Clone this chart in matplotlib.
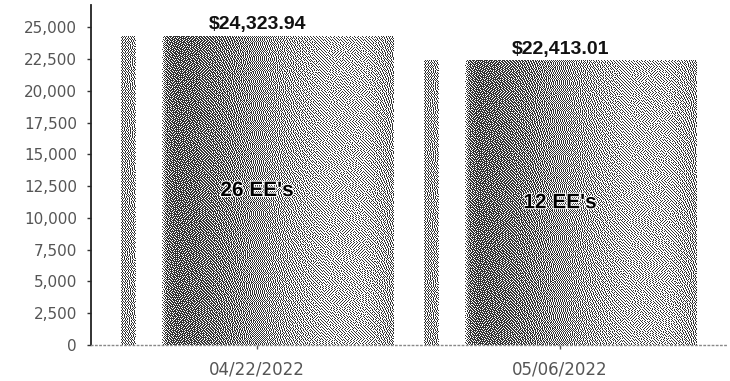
import matplotlib.pyplot as plt
import matplotlib.patheffects as pe
import numpy as np

# === DATA ===
DATUMS = ["04/22/2022", "05/06/2022"]
BEDRAGEN = [24323.94, 22413.01]
AANTAL_EE = [26, 12]
Y_TICKS = [0, 2500, 5000, 7500, 10000, 12500, 15000, 17500, 20000, 22500, 25000]

# cilinder-schaduw over de balkbreedte (positie 0..1, grijswaarde)
SCHADUW_POS = [0.0, 0.05, 0.056, 0.145, 0.165, 0.2, 0.3, 0.5, 0.75, 0.9, 1.0]
SCHADUW_GRIJS = [0.64, 0.64, 1.0, 1.0, 0.5, 0.42, 0.46, 0.6, 0.74, 0.74, 0.64]
BALK_BREEDTE = 0.9
ZWART, WIT = 0.2, 1.0


def dither_balk(w_px, h_px):
    """Floyd-Steinberg foutdiffusie van het schaduwprofiel naar zwart/wit."""
    profiel = np.interp(np.linspace(0, 1, w_px), SCHADUW_POS, SCHADUW_GRIJS)
    g = [list(profiel) for _ in range(h_px)]
    out = np.zeros((h_px, w_px))
    for y in range(h_px):
        rij = g[y]
        volgende = g[y + 1] if y + 1 < h_px else None
        for x in range(w_px):
            oud = rij[x]
            nieuw = WIT if oud > (ZWART + WIT) / 2 else ZWART
            out[y, x] = nieuw
            fout = oud - nieuw
            if x + 1 < w_px:
                rij[x + 1] += fout * 7 / 16
            if volgende is not None:
                if x > 0:
                    volgende[x - 1] += fout * 3 / 16
                volgende[x] += fout * 5 / 16
                if x + 1 < w_px:
                    volgende[x + 1] += fout * 1 / 16
    return out


def main():
    fig = plt.figure(figsize=(7.3, 3.81), dpi=100)
    ax = fig.add_axes([91 / 730, 36 / 381, 637 / 730, 340 / 381])
    ax.set_xlim(-0.548, 1.554)
    ax.set_ylim(0, 26770)

    x = np.arange(len(DATUMS))
    bars = ax.bar(x, BEDRAGEN, width=BALK_BREEDTE, color="none", edgecolor="none")

    for b in bars:
        x0, h = b.get_x(), b.get_height()
        x1 = x0 + b.get_width()
        (px0, py0), (px1, py1) = ax.transData.transform([(x0, 0), (x1, h)])
        w_px, h_px = int(round(px1 - px0)), int(round(py1 - py0))
        im = ax.imshow(
            dither_balk(w_px, h_px),
            cmap="gray",
            vmin=0,
            vmax=1,
            aspect="auto",
            interpolation="nearest",
            extent=(x0, x1, 0, h),
            zorder=2,
        )
        im.set_clip_path(b)

    halo = [pe.withStroke(linewidth=1.5, foreground="white")]
    for i, (v, n) in enumerate(zip(BEDRAGEN, AANTAL_EE)):
        ax.annotate(
            f"${v:,.2f}",
            (i, v),
            xytext=(0, 2),
            textcoords="offset points",
            ha="center",
            va="bottom",
            fontsize=14,
            fontweight="bold",
            family="Liberation Sans",
            color="#111111",
            zorder=3,
        )
        ax.text(
            i, v / 2, f"{n} EE's", ha="center", va="center", fontsize=15,
            fontweight="bold", family="Liberation Sans", color="#000000", zorder=3,
            path_effects=halo,
        )

    ax.set_xticks(x)
    ax.set_xticklabels(DATUMS)
    ax.set_yticks(Y_TICKS)
    ax.set_yticklabels([f"{t:,}" for t in Y_TICKS])

    for s in ["top", "right"]:
        ax.spines[s].set_visible(False)
    ax.spines["left"].set_color("#222222")
    ax.spines["left"].set_linestyle((0, (1, 1)))
    ax.spines["left"].set_linewidth(1.3)
    ax.spines["bottom"].set_color("#888888")
    ax.spines["bottom"].set_linestyle((0, (1, 2)))
    ax.spines["bottom"].set_linewidth(1.0)

    ax.tick_params(axis="y", length=3, width=1, color="#333333", pad=7, labelsize=11, labelcolor="#555555")
    ax.tick_params(axis="x", length=3, width=1, color="#555555", pad=8, labelsize=12, labelcolor="#555555")

    fig.savefig("out.png", dpi=100)
    plt.close(fig)


if __name__ == "__main__":
    main()
